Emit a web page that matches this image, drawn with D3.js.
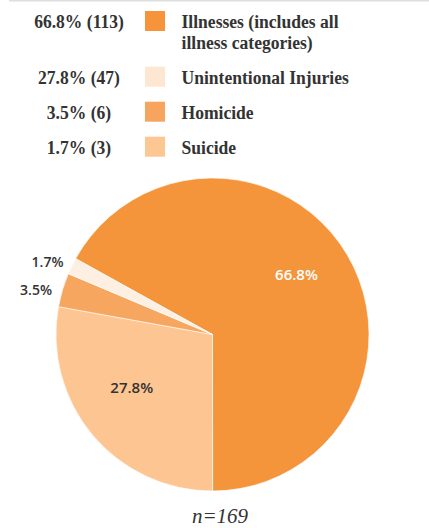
<!DOCTYPE html>
<html><head><meta charset="utf-8">
<script src="https://cdn.jsdelivr.net/npm/d3@7/dist/d3.min.js"></script>
<style>html,body{margin:0;padding:0;background:#fff;}svg{display:block;}</style>
</head><body>
<script>
// Data
const categories = ["Illnesses (includes all illness categories)", "Unintentional Injuries", "Homicide", "Suicide"];
const legendLines = [["Illnesses (includes all", "illness categories)"], ["Unintentional Injuries"], ["Homicide"], ["Suicide"]];
const percents = [66.8, 27.8, 3.5, 1.7];
const counts = [113, 47, 6, 3];
const legendColors = ["#f5943a", "#fee7d2", "#f7a55e", "#fcc793"];
// pie slice order/colours as drawn
const sliceLabels = ["66.8%", "27.8%", "3.5%", "1.7%"];
const sliceValues = [66.8, 27.8, 3.5, 1.7];
const sliceColors = ["#f5953b", "#fcc592", "#f7a660", "#fdf0e3"];
const totalN = "n=169";

const W = 429, H = 528;
const svg = d3.select("body").append("svg").attr("width", W).attr("height", H);

// top rule
svg.append("line").attr("x1", 9).attr("x2", W).attr("y1", 0.8).attr("y2", 0.8)
  .attr("stroke", "#dedede").attr("stroke-width", 1.6);

// Legend
const rowY = d3.scaleOrdinal().domain(d3.range(4)).range([11, 66.7, 101.7, 136.7]);
const serif = "'Liberation Serif', 'Times New Roman', serif";
const leg = svg.append("g");
const sx = 0.96, fs = 18.3;
percents.forEach((p, i) => {
  const y = rowY(i);
  leg.append("text").attr("transform", `translate(79,${y + 17}) scale(${sx},1)`)
    .attr("text-anchor", "middle")
    .attr("font-family", serif).attr("font-weight", "bold").attr("font-size", fs)
    .attr("fill", "#333").text(`${p}% (${counts[i]})`);
  leg.append("rect").attr("x", 145).attr("y", y).attr("width", 20).attr("height", 20)
    .attr("fill", legendColors[i]);
  legendLines[i].forEach((ln, j) => {
    leg.append("text").attr("transform", `translate(181.5,${y + 17 + j * 20.5}) scale(${sx},1)`)
      .attr("font-family", serif).attr("font-weight", "bold").attr("font-size", fs)
      .attr("fill", "#333").text(ln);
  });
});

// Pie
const cx = 212.5, cy = 334.5, r = 156.5;
const start = -61.0 * Math.PI / 180;
const pie = d3.pie().sort(null).value(d => d).startAngle(start).endAngle(start + 2 * Math.PI);
const arcs = pie(sliceValues);
const arc = d3.arc().innerRadius(0).outerRadius(r);
const g = svg.append("g").attr("transform", `translate(${cx},${cy})`);
g.selectAll("path").data(arcs).join("path")
  .attr("d", arc).attr("fill", (d, i) => sliceColors[i])
  .attr("stroke", "#fff").attr("stroke-width", 0.6);

const sans = "'Open Sans', 'Noto Sans', sans-serif";
// inner labels
const innerPos = [[84, -59.5], [-80.8, 53.5]];
[0, 1].forEach(i => {
  g.append("text").attr("x", innerPos[i][0]).attr("y", innerPos[i][1] + 5.3)
    .attr("text-anchor", "middle").attr("font-family", sans).attr("font-weight", 600)
    .attr("font-size", 15).attr("fill", i === 0 ? "#fff" : "#333").text(sliceLabels[i]);
});
// outside labels
const outsidePos = {2: [52, 290], 3: [63.5, 262]};
[2, 3].forEach(i => {
  svg.append("text").attr("x", outsidePos[i][0]).attr("y", outsidePos[i][1] + 5)
    .attr("text-anchor", "end").attr("font-family", sans).attr("font-weight", 600)
    .attr("font-size", 14).attr("fill", "#333").text(sliceLabels[i]);
});

svg.append("text").attr("x", 220).attr("y", 522.5).attr("text-anchor", "middle")
  .attr("font-family", serif).attr("font-style", "italic").attr("font-size", 21)
  .attr("fill", "#333").text(totalN);
</script>
</body></html>
